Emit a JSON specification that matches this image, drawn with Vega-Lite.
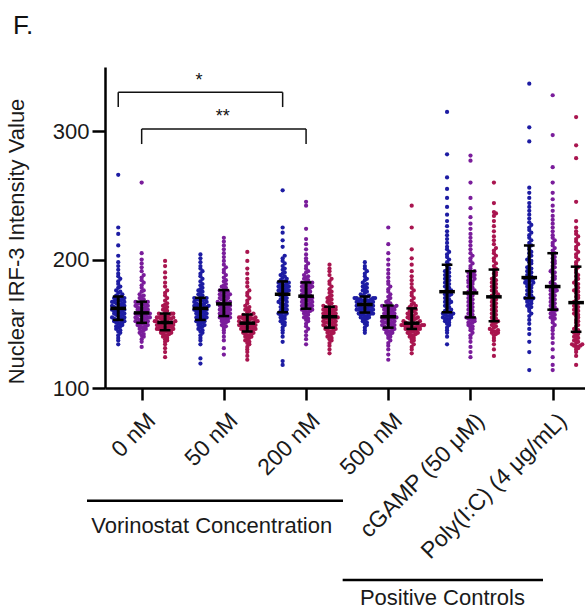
{
  "$schema": "https://vega.github.io/schema/vega-lite/v6.json",
  "width": 480,
  "height": 321,
  "autosize": {"type": "none"},
  "padding": {"left": 105, "top": 67, "right": 0, "bottom": 221},
  "config": {"view": {"stroke": null}, "font": "Liberation Sans"},
  "data": {"values": [
    {"g":0,"s":0,"v":[134,137,139,141,143,144,145,146,147,148,148,149,150,150,151,151,152,152,153,153,153,154,154,155,155,156,156,157,157,158,158,159,159,160,160,160,161,161,162,162,162,163,163,164,164,165,165,166,166,167,167,167,168,168,169,169,170,170,171,171,172,173,174,175,176,178,179,181,183,185,187,189,192,195,198,203,211,220,225,266]},
    {"g":0,"s":1,"v":[132,136,138,140,141,142,143,144,145,146,146,147,147,148,148,149,149,150,150,150,151,151,152,152,153,153,153,154,154,155,155,155,156,156,157,157,157,158,158,158,159,159,160,160,161,161,162,162,162,163,163,164,164,165,165,166,166,166,167,167,168,169,170,171,172,173,175,176,178,180,182,184,186,188,191,194,197,200,205,260]},
    {"g":0,"s":2,"v":[124,128,131,134,136,137,138,139,140,141,141,142,142,143,143,144,144,144,145,145,145,146,146,146,147,147,147,148,148,148,149,149,149,150,150,150,150,151,151,151,151,152,152,152,153,153,153,154,154,154,155,155,155,156,156,156,157,157,158,158,158,159,160,161,162,163,164,165,166,168,170,172,174,176,179,182,186,190,195,199]},
    {"g":1,"s":0,"v":[119,123,134,137,139,141,143,144,145,146,147,148,149,149,150,151,151,152,152,153,153,154,154,155,155,156,156,157,157,158,158,159,159,160,160,160,161,161,162,162,162,163,163,163,164,164,165,165,165,166,166,167,167,168,168,169,169,169,170,170,171,172,173,174,175,176,177,178,180,181,183,185,187,189,191,193,195,198,201,204]},
    {"g":1,"s":1,"v":[126,131,137,140,143,145,147,148,149,150,151,152,152,153,153,154,154,155,155,156,156,157,157,158,158,159,159,160,160,161,161,162,162,163,163,164,164,165,165,165,166,166,167,167,168,168,169,170,170,171,171,172,172,173,173,174,174,175,175,176,177,178,179,180,181,183,184,186,188,190,192,194,196,199,202,205,208,211,214,217]},
    {"g":1,"s":2,"v":[122,125,128,130,132,134,135,136,137,138,139,140,140,141,141,142,142,143,143,144,144,145,145,145,146,146,146,147,147,147,148,148,148,149,149,149,150,150,150,150,151,151,151,152,152,152,153,153,153,154,154,154,155,155,155,156,156,156,157,157,158,159,160,161,162,163,164,166,168,170,172,174,176,179,182,185,189,193,199,206]},
    {"g":2,"s":0,"v":[118,121,136,140,143,145,147,149,150,151,152,153,154,155,156,156,157,158,158,159,159,160,161,162,162,163,164,165,165,166,167,167,168,169,169,170,171,171,172,173,173,174,174,175,175,176,176,177,177,178,178,179,179,180,180,181,181,182,182,183,183,184,185,186,187,188,189,190,192,193,195,197,199,201,203,210,215,221,225,254]},
    {"g":2,"s":1,"v":[134,138,141,144,146,148,150,152,153,154,155,156,157,158,159,159,160,160,161,161,162,162,163,163,164,164,165,165,166,166,167,167,168,168,169,169,170,170,171,171,172,172,173,174,174,175,175,176,177,177,178,178,179,179,180,180,181,181,182,182,183,184,185,186,187,188,190,191,193,195,197,199,201,204,208,212,216,224,242,245]},
    {"g":2,"s":2,"v":[127,130,133,135,137,138,139,140,141,142,143,143,144,144,145,145,146,146,147,147,147,148,148,149,149,150,150,151,151,151,152,152,153,153,154,154,154,155,155,155,156,156,157,157,158,158,158,159,159,160,160,160,161,161,162,162,162,163,163,163,164,165,166,167,168,169,170,171,172,174,175,177,179,181,183,185,188,191,193,196]},
    {"g":3,"s":0,"v":[143,145,147,149,150,151,152,153,154,154,155,155,156,156,157,157,157,158,158,158,159,159,159,160,160,160,161,161,161,162,162,162,163,163,163,164,164,164,165,165,165,166,166,166,167,167,167,168,168,168,168,169,169,169,170,170,170,170,171,171,172,172,173,174,175,176,177,178,179,180,181,182,184,185,187,189,191,193,195,198]},
    {"g":3,"s":1,"v":[122,126,130,133,135,137,139,140,141,142,143,143,144,144,145,145,146,146,147,147,147,148,148,149,149,150,150,151,151,151,152,152,153,153,154,154,154,155,155,155,156,156,157,157,158,158,159,159,160,160,161,161,162,162,162,163,163,163,164,164,165,166,167,168,170,171,173,175,177,179,181,183,186,189,192,196,200,205,212,225]},
    {"g":3,"s":2,"v":[127,130,132,134,136,137,138,139,140,141,141,142,142,143,143,144,144,145,145,146,146,146,146,147,147,147,147,148,148,148,148,149,149,149,149,150,150,150,150,150,151,151,152,152,153,153,154,154,155,155,156,156,157,158,158,159,160,160,161,162,162,163,164,165,166,168,170,172,174,176,178,181,184,187,191,196,201,208,225,242]},
    {"g":4,"s":0,"v":[134,140,143,145,147,149,150,151,152,153,153,154,155,155,156,156,157,157,158,158,159,159,160,161,162,163,164,165,166,167,167,168,169,170,171,172,173,173,174,175,175,176,177,178,179,180,181,182,183,184,185,186,187,188,189,190,191,192,193,195,196,198,200,202,204,206,208,210,213,216,219,222,226,230,235,241,248,255,264,282,315]},
    {"g":4,"s":1,"v":[124,128,132,136,139,141,143,145,146,147,148,149,150,151,151,152,153,153,154,154,155,156,157,158,159,160,161,162,163,164,165,166,167,168,169,170,171,172,173,174,174,175,176,177,178,179,180,181,182,183,183,184,185,186,187,187,188,189,189,190,191,193,195,197,199,201,203,205,208,211,214,217,220,224,228,233,240,248,260,277,281]},
    {"g":4,"s":2,"v":[125,130,134,137,139,141,142,143,143,144,144,145,145,146,147,148,149,150,151,152,152,153,154,155,156,157,158,159,160,161,162,163,164,165,166,167,168,169,170,171,171,172,173,174,175,176,177,178,179,180,181,182,183,184,185,186,188,189,190,192,193,195,197,199,201,203,205,207,209,212,215,218,222,226,230,234,236,237,244,260]},
    {"g":5,"s":0,"v":[114,128,136,142,146,150,153,156,158,160,162,163,164,165,166,167,168,168,169,170,170,171,172,173,174,175,176,177,178,179,180,180,181,182,182,183,184,184,185,185,186,187,188,189,190,191,192,193,194,195,197,198,199,200,202,203,205,206,208,210,211,213,215,217,219,221,223,225,227,229,232,235,238,241,244,248,252,256,292,303,337]},
    {"g":5,"s":1,"v":[114,118,124,130,135,139,142,145,147,149,151,153,154,155,156,157,158,159,160,161,161,162,163,164,165,166,167,168,169,170,171,172,173,174,175,176,176,177,178,178,179,180,181,182,184,185,186,187,189,190,191,193,194,195,197,198,199,201,202,204,205,207,209,211,213,215,217,219,222,225,228,231,234,238,242,247,252,260,272,297,328]},
    {"g":5,"s":2,"v":[118,125,128,130,131,132,132,133,133,134,134,135,136,137,138,139,140,141,142,143,144,145,146,148,149,151,152,153,155,156,157,158,159,160,161,162,163,164,165,166,167,168,170,171,172,174,175,176,177,178,180,181,182,184,185,187,188,190,192,194,196,198,200,202,204,206,208,210,212,214,216,218,220,222,225,230,245,279,289,311]}
  ]},
  "layer": [
    {
      "transform": [
        {"flatten": ["v"]},
        {"calculate": "floor(datum.v / 3)", "as": "b"},
        {"window": [{"op": "row_number", "as": "r"}], "groupby": ["g", "s", "b"]},
        {"calculate": "(datum.r % 2 == 0 ? 1 : -1) * floor(datum.r / 2)", "as": "k"},
        {"calculate": "datum.g + (datum.s - 1) * 0.285 + datum.k * 0.025", "as": "xp"}
      ],
      "mark": {"type": "circle", "size": 18, "opacity": 1, "clip": true},
      "encoding": {
        "x": {"field": "xp", "type": "quantitative",
          "scale": {"domain": [-0.446, 5.393], "nice": false, "zero": false},
          "axis": {"values": [0, 1, 2, 3, 4, 5], "title": null, "grid": false,
            "labelExpr": "['0 nM','50 nM','200 nM','500 nM','cGAMP (50 μM)','Poly(I:C) (4 μg/mL)'][datum.value]",
            "labelAngle": -45, "labelAlign": "right", "labelBaseline": "top", "labelPadding": 9, "labelOffset": 2,
            "labelFontSize": 23, "labelColor": "#1a1a1a", "labelFont": "Liberation Sans", "labelLimit": 400,
            "domainColor": "#000", "domainWidth": 2.5, "tickColor": "#000", "tickWidth": 2.5, "tickSize": 12,
            "labelOverlap": false, "labelBound": false, "labelFlush": false}},
        "y": {"field": "v", "type": "quantitative",
          "scale": {"domain": [100, 350], "nice": false, "zero": false},
          "axis": {"values": [100, 200, 300], "title": "Nuclear IRF-3 Intensity Value", "grid": false,
            "labelFontSize": 22, "labelColor": "#1a1a1a", "labelPadding": 3,
            "titleFontSize": 22, "titleFontWeight": "normal", "titleColor": "#1a1a1a",
            "titleX": -89, "titleY": 174, "titleAlign": "center", "titleBaseline": "middle", "titleAngle": -90,
            "domainColor": "#000", "domainWidth": 2.5, "tickColor": "#000", "tickWidth": 2.5, "tickSize": 13}},
        "color": {"field": "s", "type": "nominal", "legend": null,
          "scale": {"domain": [0, 1, 2], "range": ["#1d1ca3", "#7a1d9b", "#a9154f"]}}
      }
    },
    {
      "transform": [
        {"flatten": ["v"]},
        {"aggregate": [
          {"op": "median", "field": "v", "as": "med"},
          {"op": "q1", "field": "v", "as": "q1"},
          {"op": "q3", "field": "v", "as": "q3"}], "groupby": ["g", "s"]},
        {"calculate": "datum.g + (datum.s - 1) * 0.285", "as": "xc"},
        {"calculate": "datum.xc - 0.095", "as": "ml"},
        {"calculate": "datum.xc + 0.095", "as": "mr"},
        {"calculate": "datum.xc - 0.065", "as": "cl"},
        {"calculate": "datum.xc + 0.065", "as": "cr"}
      ],
      "layer": [
        {"mark": {"type": "rule", "color": "#000", "strokeWidth": 3},
         "encoding": {"x": {"field": "xc", "type": "quantitative"}, "y": {"field": "q1", "type": "quantitative"}, "y2": {"field": "q3"}}},
        {"mark": {"type": "rule", "color": "#000", "strokeWidth": 3.5},
         "encoding": {"x": {"field": "ml", "type": "quantitative"}, "x2": {"field": "mr"}, "y": {"field": "med", "type": "quantitative"}}},
        {"mark": {"type": "rule", "color": "#000", "strokeWidth": 2.5},
         "encoding": {"x": {"field": "cl", "type": "quantitative"}, "x2": {"field": "cr"}, "y": {"field": "q1", "type": "quantitative"}}},
        {"mark": {"type": "rule", "color": "#000", "strokeWidth": 2.5},
         "encoding": {"x": {"field": "cl", "type": "quantitative"}, "x2": {"field": "cr"}, "y": {"field": "q3", "type": "quantitative"}}}
      ]
    },
    {
      "data": {"values": [
        {"x1": -0.285, "x2": 1.715, "yt": 330.3, "yb": 318.8, "xm": 0.697, "ys": 335.4, "lab": "*"},
        {"x1": 0, "x2": 2, "yt": 301.7, "yb": 290, "xm": 0.985, "ys": 307.2, "lab": "**"}
      ]},
      "layer": [
        {"mark": {"type": "rule", "color": "#111", "strokeWidth": 1.5},
         "encoding": {"x": {"field": "x1", "type": "quantitative"}, "x2": {"field": "x2"}, "y": {"field": "yt", "type": "quantitative"}}},
        {"mark": {"type": "rule", "color": "#111", "strokeWidth": 1.5},
         "encoding": {"x": {"field": "x1", "type": "quantitative"}, "y": {"field": "yt", "type": "quantitative"}, "y2": {"field": "yb"}}},
        {"mark": {"type": "rule", "color": "#111", "strokeWidth": 1.5},
         "encoding": {"x": {"field": "x2", "type": "quantitative"}, "y": {"field": "yt", "type": "quantitative"}, "y2": {"field": "yb"}}},
        {"mark": {"type": "text", "fontSize": 18, "color": "#111", "baseline": "alphabetic", "align": "center"},
         "encoding": {"x": {"field": "xm", "type": "quantitative"}, "y": {"field": "ys", "type": "quantitative"}, "text": {"field": "lab"}}}
      ]
    },
    {
      "data": {"values": [
        {"x1": -0.665, "x2": 2.449, "yl": 12.2, "xt": 0.852, "yt": -7.3, "lab": "Vorinostat Concentration"},
        {"x1": 2.445, "x2": 4.882, "yl": -49.5, "xt": 3.659, "yt": -63.6, "lab": "Positive Controls"}
      ]},
      "layer": [
        {"mark": {"type": "rule", "color": "#000", "strokeWidth": 2.5, "clip": false},
         "encoding": {"x": {"field": "x1", "type": "quantitative"}, "x2": {"field": "x2"}, "y": {"field": "yl", "type": "quantitative"}}},
        {"mark": {"type": "text", "fontSize": 22, "color": "#1a1a1a", "baseline": "middle", "align": "center", "clip": false},
         "encoding": {"x": {"field": "xt", "type": "quantitative"}, "y": {"field": "yt", "type": "quantitative"}, "text": {"field": "lab"}}}
      ]
    },
    {
      "data": {"values": [{"x": -1.566, "y": 375.7, "lab": "F."}]},
      "mark": {"type": "text", "fontSize": 26, "color": "#111", "baseline": "alphabetic", "align": "left", "clip": false},
      "encoding": {"x": {"field": "x", "type": "quantitative"}, "y": {"field": "y", "type": "quantitative"}, "text": {"field": "lab"}}
    }
  ]
}
